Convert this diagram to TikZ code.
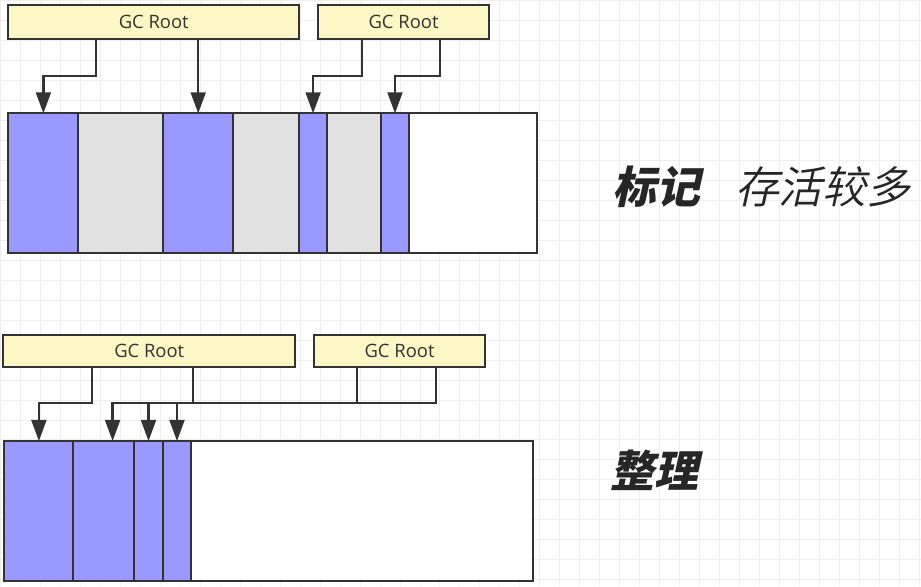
\documentclass[tikz,border=0pt]{standalone}
\usepackage{fontspec}
\setmainfont{Open Sans}
\newfontfamily\cjkheavy[FakeSlant=0.22]{Noto Sans CJK SC Black}
\newfontfamily\cjklight[FakeSlant=0.22]{Noto Sans CJK SC DemiLight}
\usetikzlibrary{arrows.meta, positioning, calc}

\definecolor{live}{HTML}{9999FF}
\definecolor{dead}{HTML}{E1E1E1}
\definecolor{rootfill}{HTML}{FCF7C4}
\definecolor{ink}{HTML}{333333}
\definecolor{gridc}{HTML}{EEEEEE}

\begin{document}
\begin{tikzpicture}[
    x=0.02cm, y=-0.02cm,
    node distance=0pt,
    every node/.style={font=\fontsize{10.5}{12}\selectfont, text=ink},
    root/.style={rectangle, draw=ink, line width=1.2pt, fill=rootfill, minimum height=0.68cm, inner sep=0pt, outer sep=0pt, anchor=north west},
    cell/.style={rectangle, draw=ink, line width=1.2pt, minimum height=2.8cm, inner sep=0pt, outer sep=0pt},
    livecell/.style={cell, fill=live},
    deadcell/.style={cell, fill=dead},
    freecell/.style={cell, fill=white},
    arrow/.style={-{Triangle[length=12pt, width=8.5pt]}, line width=1.3pt, draw=ink},
    wire/.style={line width=1.3pt, draw=ink},
    title/.style={anchor=west, inner sep=0pt, text=black!85}
]

% --- 背景网格 ---
\fill[white] (0,0) rectangle (921,586);
\draw[gridc, line width=0.5pt, step=0.4cm] (0,0) grid (921,586);
\useasboundingbox (0,0) rectangle (921,586);

% --- 标记 ---
\node (rootA) [root, minimum width=5.82cm] at (8,5) {GC Root};
\node (rootB) [root, minimum width=3.42cm] at (318,5) {GC Root};

\node (m1) [livecell, minimum width=1.40cm, anchor=north west] at (8,113) {};
\node (m2) [deadcell, minimum width=1.70cm, right=of m1] {};
\node (m3) [livecell, minimum width=1.40cm, right=of m2] {};
\node (m4) [deadcell, minimum width=1.32cm, right=of m3] {};
\node (m5) [livecell, minimum width=0.56cm, right=of m4] {};
\node (m6) [deadcell, minimum width=1.08cm, right=of m5] {};
\node (m7) [livecell, minimum width=0.56cm, right=of m6] {};
\node (m8) [freecell, minimum width=2.56cm, right=of m7] {};

\draw [arrow] ($(rootA.south west)+(88,0)$) -- ++(0,37) -| (m1.north);
\draw [arrow] (rootA.south -| m3.north) -- (m3.north);
\draw [arrow] ($(rootB.south west)+(44,0)$) -- ++(0,37) -| (m5.north);
\draw [arrow] ($(rootB.south west)+(122,0)$) -- ++(0,37) -| (m7.north);

\node (markA) [title, font=\cjkheavy\fontsize{25}{30}\selectfont] at (612,187) {标记};
\node (markB) [title, font=\cjklight\fontsize{25}{30}\selectfont] at (735,187) {存活较多};

% --- 整理 ---
\node (rootC) [root, minimum width=5.84cm, minimum height=0.64cm] at (3,335) {GC Root};
\node (rootD) [root, minimum width=3.42cm, minimum height=0.64cm] at (314,335) {GC Root};

\node (n1) [livecell, minimum width=1.38cm, anchor=north west] at (4,441) {};
\node (n2) [livecell, minimum width=1.22cm, right=of n1] {};
\node (n3) [livecell, minimum width=0.57cm, right=of n2] {};
\node (n4) [livecell, minimum width=0.57cm, right=of n3] {};
\node (n5) [freecell, minimum width=6.84cm, right=of n4] {};

\draw [arrow] ($(rootC.south west)+(89,0)$) -- ++(0,36) -| (n1.north);
\draw [wire] ($(rootC.south west)+(190,0)$) -- ++(0,36) coordinate (bus);
\draw [wire] ($(rootD.south west)+(43,0)$) -- ++(0,36);
\draw [arrow] ($(rootD.south west)+(122,0)$) -- ++(0,36) -| ([xshift=5]n2.north);
\draw [arrow] (n3.north |- bus) -- (n3.north);
\draw [arrow] (n4.north |- bus) -- (n4.north);

\node (sortA) [title, font=\cjkheavy\fontsize{25}{30}\selectfont] at (610,470) {整理};

\end{tikzpicture}
\end{document}
